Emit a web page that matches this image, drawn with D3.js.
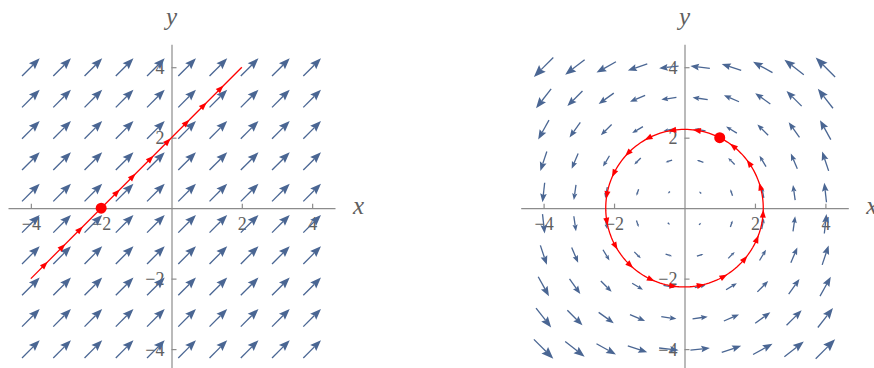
<!DOCTYPE html>
<html>
<head>
<meta charset="utf-8">
<script src="https://cdn.jsdelivr.net/npm/d3@7/dist/d3.min.js"></script>
<style>
  html, body { margin: 0; padding: 0; background: #fff; }
  svg { display: block; }
  .axis path, .axis line { stroke: #8c8c8c; stroke-width: 1.2; }
  .axlabel { font-family: "Liberation Serif", "Times New Roman", serif; font-style: italic; font-size: 25px; fill: #606060; }
</style>
</head>
<body>
<svg id="chart" width="874" height="368"></svg>
<script>
// Sample grid for the vector fields (10 x 10 points on [-4, 4])
const gridValues = [-4, -3.111, -2.222, -1.333, -0.444, 0.444, 1.333, 2.222, 3.111, 4];
const tickValues = [-4, -2, 2, 4];

// Panel 1: uniform field (1, 1) and the trajectory y = x + 2 through (-2, 0)
const fieldA = (x, y) => [1, 1];
const lineStart = [-4, -2];
const lineEnd = [2, 4];
const startA = [-2, 0];
const lineArrowX = [-3.6, -3.1, -2.6, -1.55, -1.1, -0.59, -0.1, 0.43, 0.92, 1.40];

// Panel 2: rotational field (-y, x) and the closed orbit through (1, 2)
const fieldB = (x, y) => [-y, x];
const startB = [1, 2];
const circleArrowDeg = [16, 35, 52, 81, 99, 117.5, 136, 154, 170.5, 190, 209, 226.5, 245, 262, 282, 300, 320, 337, 356];

const svg = d3.select("#chart");
const domain = [-4.65, 4.65];
const yRange = [372, 44.3];
const arrowColor = "#4a6693";
const serif = "'Liberation Serif', 'Times New Roman', serif";

function drawArrow(g, cx, cy, dx, dy, L, color) {
  // dx, dy: unit direction in pixel space; arrow centred on (cx, cy)
  const tx = cx - dx * L / 2, ty = cy - dy * L / 2;
  const hx = cx + dx * L / 2, hy = cy + dy * L / 2;
  const hl = 0.44 * L, hw = 0.17 * L;
  const bx = hx - dx * hl, by = hy - dy * hl;
  const nx = -dy, ny = dx;
  const notch = 0.15 * hl;
  g.append("line")
    .attr("x1", tx).attr("y1", ty)
    .attr("x2", bx + dx * notch).attr("y2", by + dy * notch)
    .attr("stroke", color).attr("stroke-width", 1.3);
  g.append("path")
    .attr("d", `M${hx},${hy} L${bx + nx * hw},${by + ny * hw} L${bx + dx * notch},${by + dy * notch} L${bx - nx * hw},${by - ny * hw} Z`)
    .attr("fill", color);
}

function redHead(g, px, py, dx, dy) {
  const hl = 8, hw = 3;
  const hx = px + dx * hl / 2, hy = py + dy * hl / 2;
  const bx = px - dx * hl / 2, by = py - dy * hl / 2;
  const nx = -dy, ny = dx;
  g.append("path")
    .attr("d", `M${hx},${hy} L${bx + nx * hw},${by + ny * hw} L${bx - nx * hw},${by - ny * hw} Z`)
    .attr("fill", "#ff0000");
}

function panel(xRange, field, maxLen) {
  const x = d3.scaleLinear().domain(domain).range(xRange);
  const y = d3.scaleLinear().domain(domain).range(yRange);
  const g = svg.append("g");

  // axes
  const xAxis = d3.axisBottom(x).tickValues(tickValues)
    .tickSizeInner(-4.5).tickSizeOuter(0).tickPadding(9);
  const yAxis = d3.axisLeft(y).tickValues(tickValues)
    .tickSizeInner(-5).tickSizeOuter(0).tickPadding(7);
  const gx = g.append("g").attr("class", "axis").attr("transform", `translate(0,${y(0)})`).call(xAxis);
  const gy = g.append("g").attr("class", "axis").attr("transform", `translate(${x(0)},0)`).call(yAxis);
  [gx, gy].forEach(a => {
    a.selectAll("text")
      .style("font-family", serif)
      .style("font-size", "18px")
      .style("fill", "#606060");
  });
  gx.selectAll("text").attr("dy", "0.71em");
  gy.selectAll("text").attr("dy", "0.34em");

  g.append("text").attr("class", "axlabel")
    .attr("x", xRange[1] + 18).attr("y", y(0) + 6).text("x");
  g.append("text").attr("class", "axlabel")
    .attr("text-anchor", "middle")
    .attr("x", x(0)).attr("y", 25).text("y");

  // vector field
  const pts = [];
  gridValues.forEach(gxv => gridValues.forEach(gyv => {
    const [u, v] = field(gxv, gyv);
    pts.push({ x: gxv, y: gyv, u, v, m: Math.hypot(u, v) });
  }));
  const maxM = d3.max(pts, d => d.m);
  const arrows = g.append("g");
  pts.forEach(d => {
    if (d.m === 0) return;
    const L = maxLen * d.m / maxM;
    // direction in pixel space (y flipped)
    const px = d.u / d.m, py = -d.v / d.m;
    drawArrow(arrows, x(d.x), y(d.y), px, py, L, arrowColor);
  });
  return { g, x, y };
}

// left panel
const A = panel([8, 335], fieldA, 25);
A.g.append("line")
  .attr("x1", A.x(lineStart[0])).attr("y1", A.y(lineStart[1]))
  .attr("x2", A.x(lineEnd[0])).attr("y2", A.y(lineEnd[1]))
  .attr("stroke", "#ff0000").attr("stroke-width", 1.3);
lineArrowX.forEach(xv => {
  redHead(A.g, A.x(xv), A.y(xv + 2), Math.SQRT1_2, -Math.SQRT1_2);
});
A.g.append("circle").attr("cx", A.x(startA[0])).attr("cy", A.y(startA[1]))
  .attr("r", 5.5).attr("fill", "#ff0000");

// right panel
const B = panel([520.7, 848.3], fieldB, 27.5);
const r = Math.hypot(startB[0], startB[1]);
const circlePts = d3.range(0, 361, 2).map(a => [r * Math.cos(a * Math.PI / 180), r * Math.sin(a * Math.PI / 180)]);
B.g.append("path")
  .attr("d", d3.line().x(d => B.x(d[0])).y(d => B.y(d[1]))(circlePts))
  .attr("fill", "none").attr("stroke", "#ff0000").attr("stroke-width", 1.3);
circleArrowDeg.forEach(a => {
  const t = a * Math.PI / 180;
  redHead(B.g, B.x(r * Math.cos(t)), B.y(r * Math.sin(t)), -Math.sin(t), -Math.cos(t));
});
B.g.append("circle").attr("cx", B.x(startB[0])).attr("cy", B.y(startB[1]))
  .attr("r", 5.5).attr("fill", "#ff0000");
</script>
</body>
</html>
